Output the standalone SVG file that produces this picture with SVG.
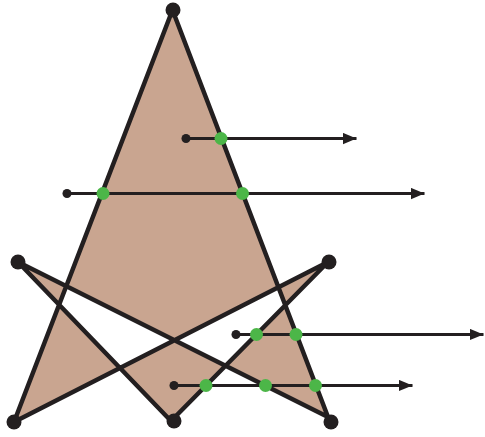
<svg xmlns="http://www.w3.org/2000/svg" width="485" height="437" viewBox="0 0 485 437">
  <style>
    .shape { fill: #c9a590; stroke: #231f20; stroke-width: 4.5; stroke-linejoin: round; fill-rule: nonzero; }
    .vtx { fill: #231f20; }
    .start { fill: #231f20; }
    .hit { fill: #4cb648; }
    .ray { stroke: #231f20; stroke-width: 3; fill: none; marker-end: url(#arrow); }
  </style>
  <defs>
    <marker id="arrow" markerUnits="userSpaceOnUse" markerWidth="14" markerHeight="12" refX="12" refY="5" orient="auto" viewBox="0 0 12 10">
      <path d="M0,0 L12,5 L0,10 Z" fill="#231f20"/>
    </marker>
  </defs>
  <rect width="485" height="437" fill="#ffffff"/>
  <g id="polygon">
    <polygon class="shape" points="172.5,10 328,417 18,262 171,421 328,262 14,422"/>
  </g>
  <g id="vertices">
    <circle class="vtx" cx="173" cy="10" r="7.5"/>
    <circle class="vtx" cx="18" cy="262" r="7.5"/>
    <circle class="vtx" cx="329" cy="262" r="7.5"/>
    <circle class="vtx" cx="14" cy="422" r="7.5"/>
    <circle class="vtx" cx="174" cy="421" r="7.5"/>
    <circle class="vtx" cx="331" cy="422" r="7.5"/>
  </g>
  <g id="connectors">
    <line class="ray" x1="186" y1="138.5" x2="356.5" y2="138.5"/>
    <line class="ray" x1="67" y1="193.5" x2="424.5" y2="193.5"/>
    <line class="ray" x1="236" y1="334.5" x2="483.5" y2="334.5"/>
    <line class="ray" x1="174" y1="385.5" x2="412.5" y2="385.5"/>
  </g>
  <g id="ray-starts">
    <circle class="start" cx="186" cy="138.5" r="4.5"/>
    <circle class="start" cx="67" cy="193.5" r="4.5"/>
    <circle class="start" cx="236" cy="334.5" r="4.5"/>
    <circle class="start" cx="174" cy="385.5" r="4.5"/>
  </g>
  <g id="intersections">
    <circle class="hit" cx="221" cy="138.5" r="6.5"/>
    <circle class="hit" cx="103" cy="193.5" r="6.5"/>
    <circle class="hit" cx="242.5" cy="193.5" r="6.5"/>
    <circle class="hit" cx="256.5" cy="334.5" r="6.5"/>
    <circle class="hit" cx="296" cy="334.5" r="6.5"/>
    <circle class="hit" cx="206" cy="385.5" r="6.5"/>
    <circle class="hit" cx="265.5" cy="385.5" r="6.5"/>
    <circle class="hit" cx="315.5" cy="385.5" r="6.5"/>
  </g>
</svg>
